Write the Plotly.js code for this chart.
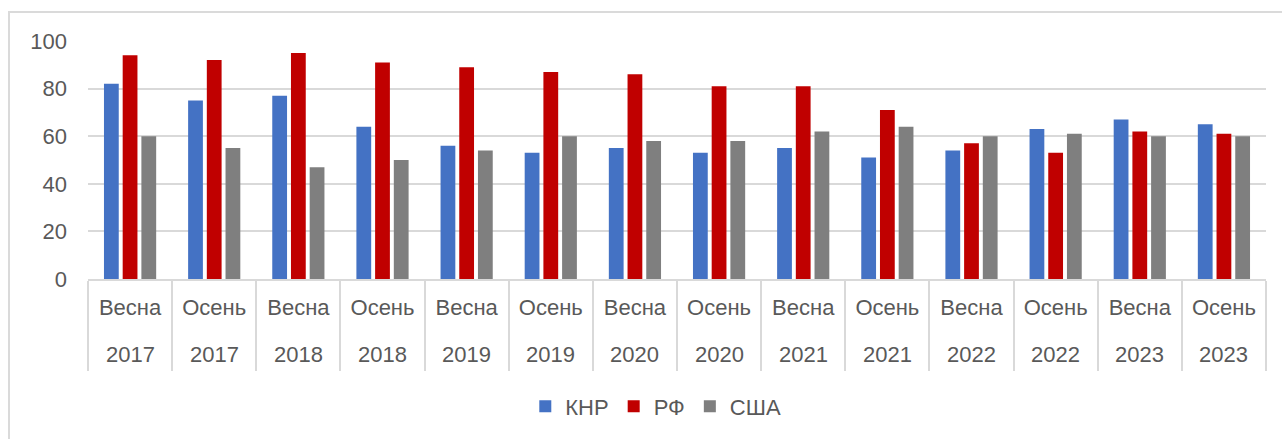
<!DOCTYPE html>
<html>
<head>
<meta charset="utf-8">
<script src="https://cdn.plot.ly/plotly-3.0.1.min.js"></script>
<style>
  body { margin: 0; background: #fff; overflow: hidden; }
  #chart { width: 1282px; height: 439px; position: absolute; left: 0; top: 0; }
  #frame { position: absolute; left: 8px; top: 11px; width: 1400px; height: 600px;
           border: 2px solid #dadada; pointer-events: none; }
</style>
</head>
<body>
<div id="frame"></div>
<div id="chart"></div>
<script>
var seasons = ['Весна', 'Осень', 'Весна', 'Осень', 'Весна', 'Осень', 'Весна',
               'Осень', 'Весна', 'Осень', 'Весна', 'Осень', 'Весна', 'Осень'];
var years = ['2017', '2017', '2018', '2018', '2019', '2019', '2020',
             '2020', '2021', '2021', '2022', '2022', '2023', '2023'];

var china = [82, 75, 77, 64, 56, 53, 55, 53, 55, 51, 54, 63, 67, 65];
var russia = [94, 92, 95, 91, 89, 87, 86, 81, 81, 71, 57, 53, 62, 61];
var usa = [60, 55, 47, 50, 54, 60, 58, 58, 62, 64, 60, 61, 60, 60];

var yTicks = [0, 20, 40, 60, 80, 100];

// one category per period, season shown on the tick, year as annotation below
var cats = seasons.map(function(s, i) { return s + ' ' + years[i]; });

var font = {family: 'Liberation Sans, Arial, sans-serif', size: 22, color: '#595959'};

function barTrace(name, values, color) {
    return {
        x: cats,
        y: values,
        type: 'bar',
        name: name,
        marker: {color: color}
    };
}

var data = [
    barTrace('КНР', china, '#4472C4'),
    barTrace('РФ', russia, '#C00000'),
    barTrace('США', usa, '#7F7F7F')
];

var yearNotes = cats.map(function(c, i) {
    return {
        x: c,
        y: 0,
        xref: 'x',
        yref: 'paper',
        yanchor: 'middle',
        yshift: -75,
        text: years[i],
        showarrow: false,
        font: font
    };
});

var layout = {
    width: 1282,
    height: 439,
    margin: {l: 88, r: 16, t: 41, b: 159.5},
    paper_bgcolor: 'rgba(0,0,0,0)',
    plot_bgcolor: 'rgba(0,0,0,0)',
    font: font,
    barmode: 'group',
    bargap: 0.333,
    bargroupgap: 0.21,
    xaxis: {
        type: 'category',
        tickvals: cats,
        ticktext: seasons,
        tickson: 'boundaries',
        ticks: 'outside',
        ticklen: 90,
        tickwidth: 2,
        tickcolor: '#d9d9d9',
        ticklabelstandoff: 8,
        showline: true,
        linecolor: '#d9d9d9',
        linewidth: 2,
        showgrid: false,
        tickfont: font
    },
    yaxis: {
        range: [0, 100],
        tickvals: yTicks,
        showgrid: true,
        gridcolor: '#d9d9d9',
        gridwidth: 2,
        zeroline: false,
        showline: false,
        ticks: '',
        ticklabelstandoff: 20,
        tickfont: font
    },
    showlegend: true,
    legend: {
        orientation: 'h',
        x: 0.482,
        xanchor: 'center',
        y: -0.535,
        yanchor: 'middle',
        font: font,
        itemwidth: 30
    },
    annotations: yearNotes
};

Plotly.newPlot('chart', data, layout, {staticPlot: true});
</script>
</body>
</html>
